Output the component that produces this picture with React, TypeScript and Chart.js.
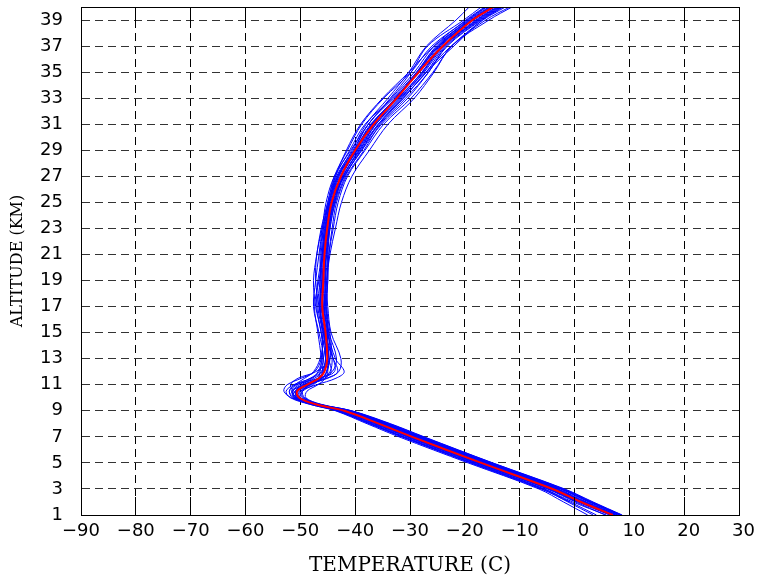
import React, { useEffect, useRef } from "react";
import { Chart, registerables } from "chart.js";

Chart.register(...registerables);

// Altitude levels (km) at which every profile is sampled
const ALTITUDES = [1, 2, 3, 5, 7, 8, 9, 9.5, 10, 10.5, 11, 11.5, 12, 13, 15, 17, 19, 21, 23, 25, 27, 29, 31, 33, 35, 37, 39, 40];

// Mean profile (red)
const MEAN_TEMP = [7.0, 1.2, -4.0, -17.0, -29.6, -35.6, -42.0, -47.2, -50.2, -50.6, -48.8, -46.6, -45.6, -45.1, -45.4, -46.0, -45.8, -45.6, -45.1, -44.3, -42.6, -40.0, -36.6, -32.4, -28.4, -24.0, -18.6, -14.8];

// Individual soundings (blue)
const PROFILE_01 = [8.4, 2.9, -2.3, -15.5, -28.0, -34.1, -40.9, -47.5, -50.8, -51.5, -49.0, -45.0, -43.2, -44.0, -45.8, -46.5, -46.0, -45.2, -44.6, -43.6, -41.8, -39.0, -35.6, -31.2, -27.1, -22.5, -16.7, -12.6];
const PROFILE_02 = [5.8, -0.3, -5.5, -18.3, -31.0, -36.9, -43.0, -47.8, -50.0, -49.6, -47.6, -46.4, -46.0, -45.8, -45.0, -45.2, -45.0, -45.0, -44.8, -44.1, -42.4, -39.8, -37.0, -32.7, -28.8, -25.0, -19.2, -15.6];
const PROFILE_03 = [null, -0.9, -6.1, -19.0, -31.5, -37.4, -43.4, -48.3, -51.8, -52.6, -51.2, -48.0, -46.2, -45.4, -46.2, -47.0, -46.8, -46.0, -45.4, -44.7, -43.4, -40.4, -37.6, -33.4, -29.2, -25.6, -19.8, -16.4];
const PROFILE_04 = [8.7, 3.4, -1.8, -14.9, -27.4, -33.5, -40.6, -46.5, -49.6, -50.0, -47.0, -43.5, -42.0, -43.6, -45.0, -45.6, -45.2, -44.8, -44.0, -43.1, -41.4, -38.2, -34.8, -29.8, -25.8, -22.4, -16.2, -11.8];
const PROFILE_05 = [4.0, -0.8, -5.6, -18.6, -31.2, -37.1, -43.1, -47.2, -50.6, -51.4, -50.2, -47.8, -46.8, -46.0, -46.2, -47.2, -47.6, -47.0, -46.2, -45.0, -43.8, -41.4, -38.8, -34.8, -29.8, -26.0, -19.6, -16.2];
const PROFILE_06 = [7.8, 2.0, -3.2, -16.1, -28.8, -34.8, -41.4, -46.6, -49.4, -49.8, -48.0, -46.0, -45.2, -44.6, -44.8, -45.4, -45.5, -45.3, -44.8, -43.9, -42.2, -39.2, -36.2, -31.8, -27.4, -23.8, -17.8, -14.0];
const PROFILE_07 = [6.4, 0.6, -4.6, -17.7, -30.2, -36.2, -42.4, -47.6, -51.0, -52.0, -50.8, -46.6, -43.8, -44.0, -45.6, -46.4, -46.2, -46.0, -45.6, -44.8, -43.2, -39.8, -37.0, -32.6, -28.6, -24.8, -18.8, -15.0];
const PROFILE_08 = [null, null, -2.8, -15.8, -28.4, -34.5, -41.2, -46.8, -50.4, -50.8, -48.6, -45.6, -44.4, -44.8, -45.2, -46.0, -45.8, -45.4, -45.0, -44.1, -42.0, -38.8, -35.2, -30.4, -26.6, -23.2, -17.0, -13.2];
const PROFILE_09 = [6.9, 1.0, -4.3, -17.2, -29.9, -35.8, -42.1, -47.0, -50.0, -50.2, -48.2, -46.8, -46.4, -46.2, -46.8, -47.4, -46.6, -45.8, -45.2, -44.4, -43.0, -40.2, -37.6, -33.0, -28.2, -24.6, -18.6, -14.8];
const PROFILE_10 = [8.2, 2.6, -2.6, -15.6, -28.2, -34.3, -41.0, -47.4, -51.2, -51.0, -48.4, -45.2, -43.0, -42.6, -44.4, -45.0, -45.4, -45.6, -45.3, -44.2, -42.2, -39.4, -36.2, -31.6, -27.6, -24.0, -18.0, -14.2];
const PROFILE_11 = [5.6, 0.2, -5.0, -18.0, -30.6, -36.6, -42.7, -48.0, -51.4, -52.0, -51.0, -49.2, -47.6, -46.4, -45.6, -45.8, -46.2, -46.4, -45.8, -44.8, -43.6, -41.6, -39.0, -35.0, -30.2, -25.6, -19.0, -15.4];
const PROFILE_12 = [8.6, 3.0, -2.2, -15.2, -27.8, -33.9, -40.8, -46.2, -49.2, -49.6, -48.4, -46.8, -45.8, -45.0, -45.2, -46.2, -46.4, -46.0, -45.6, -44.4, -42.8, -39.6, -36.4, -32.0, -27.8, -24.4, -18.4, -14.6];
const PROFILE_13 = [2.4, -2.0, -6.5, -19.4, -32.0, -37.8, -43.6, -48.2, -50.8, -50.4, -48.6, -46.2, -45.2, -44.8, -45.4, -46.0, -45.8, -45.8, -45.4, -44.6, -43.0, -40.0, -37.2, -32.2, -27.8, -24.0, -17.4, -13.6];
const PROFILE_14 = [8.5, 3.2, -2.0, -15.0, -27.6, -33.7, -40.7, -46.6, -50.0, -50.8, -49.8, -47.4, -46.0, -45.4, -45.8, -46.6, -47.2, -47.0, -46.0, -44.8, -43.2, -40.2, -37.0, -32.6, -28.6, -24.8, -18.8, -15.2];
const PROFILE_15 = [7.2, 1.4, -3.8, -16.8, -29.4, -35.4, -41.8, -46.8, -50.0, -51.2, -51.8, -50.4, -47.2, -44.6, -45.0, -45.6, -45.4, -45.0, -44.6, -43.7, -42.2, -39.2, -35.8, -31.4, -27.0, -23.6, -17.6, -13.8];
const PROFILE_16 = [7.5, 1.8, -3.4, -16.4, -29.0, -35.0, -41.5, -47.1, -50.5, -50.9, -49.4, -46.2, -44.6, -44.2, -44.6, -45.2, -45.0, -44.8, -44.2, -43.4, -41.6, -38.4, -35.4, -30.8, -26.6, -23.4, -17.2, -13.4];
const PROFILE_17 = [null, 0.4, -4.8, -17.8, -30.4, -36.4, -42.6, -47.6, -51.6, -53.0, -52.4, -49.8, -47.4, -46.2, -46.0, -46.8, -46.4, -46.2, -45.8, -45.0, -43.6, -41.0, -38.2, -33.2, -28.8, -25.2, -19.4, -16.0];
const PROFILE_18 = [7.9, 2.2, -3.0, -16.0, -28.6, -34.6, -41.3, -46.4, -49.0, -48.8, -46.8, -45.4, -45.0, -45.0, -45.8, -46.4, -46.0, -45.6, -44.8, -43.8, -42.0, -38.8, -35.8, -31.2, -27.0, -22.0, -16.8, -13.0];
const PROFILE_19 = [3.4, -1.2, -5.9, -18.8, -31.4, -37.3, -43.2, -47.8, -51.0, -51.4, -49.6, -46.4, -44.2, -43.4, -44.8, -45.8, -45.6, -45.2, -44.8, -44.0, -42.6, -39.6, -36.8, -32.6, -28.4, -24.8, -18.4, -14.6];
const PROFILE_20 = [8.3, 2.7, -2.5, -15.5, -28.1, -34.2, -41.0, -47.0, -50.6, -51.6, -50.6, -48.2, -46.6, -45.8, -46.6, -47.6, -47.2, -46.6, -46.0, -45.3, -43.8, -40.8, -37.6, -33.6, -29.8, -26.8, -20.2, -17.0];
const PROFILE_21 = [6.6, 0.8, -4.4, -17.4, -30.0, -36.0, -42.3, -47.2, -50.4, -50.8, -49.0, -46.8, -45.8, -45.4, -45.6, -46.2, -46.0, -45.8, -45.4, -44.6, -43.2, -40.6, -38.0, -34.0, -30.2, -27.0, -21.6, -19.2];
const PROFILE_22 = [7.4, 1.6, -3.6, -16.6, -29.2, -35.2, -41.7, -47.0, -50.2, -50.6, -48.4, -46.0, -45.2, -45.0, -45.0, -45.4, -45.2, -44.6, -43.6, -42.5, -40.6, -37.4, -34.0, -29.2, -25.6, -22.4, -15.6, -11.4];

const PROFILES = [
  PROFILE_01, PROFILE_02, PROFILE_03, PROFILE_04, PROFILE_05, PROFILE_06, PROFILE_07, PROFILE_08,
  PROFILE_09, PROFILE_10, PROFILE_11, PROFILE_12, PROFILE_13, PROFILE_14, PROFILE_15, PROFILE_16,
  PROFILE_17, PROFILE_18, PROFILE_19, PROFILE_20, PROFILE_21, PROFILE_22,
];

const X_MIN = -90;
const X_MAX = 30;
const X_STEP = 10;
const Y_MIN = 1;
const Y_MAX = 40;
const Y_TICKS = [1, 3, 5, 7, 9, 11, 13, 15, 17, 19, 21, 23, 25, 27, 29, 31, 33, 35, 37, 39];

const X_TITLE = "TEMPERATURE (C)";
const Y_TITLE = "ALTITUDE (KM)";

const toPoints = (temps: (number | null)[]) =>
  temps
    .map((t, i) => (t === null ? null : { x: t, y: ALTITUDES[i] }))
    .filter((p) => p !== null) as { x: number; y: number }[];

const align = (v: number) => Math.round(v - 0.5) + 0.5;

const formatX = (v: number) => {
  if (v < 0) return "\u2212" + Math.abs(v);
  if (v === 0) return "\u2003" + "0";
  return "\u2002" + String(v);
};

const framePlugin = {
  id: "frame",
  afterDatasetsDraw(chart: any) {
    const { ctx, chartArea } = chart;
    const { left, right, top, bottom } = chartArea;
    ctx.save();
    ctx.strokeStyle = "#000";
    ctx.lineWidth = 1;
    ctx.setLineDash([]);
    const xs = chart.scales.x;
    ctx.beginPath();
    for (const t of xs.ticks) {
      const px = align(xs.getPixelForValue(t.value));
      ctx.moveTo(px, bottom);
      ctx.lineTo(px, bottom - 18);
      ctx.moveTo(px, top);
      ctx.lineTo(px, top + 14);
    }
    ctx.stroke();
    ctx.strokeRect(align(left), align(top), align(right) - align(left), align(bottom) - align(top));
    ctx.restore();
  },
};

export default function App() {
  const ref = useRef<HTMLCanvasElement | null>(null);

  useEffect(() => {
    if (!ref.current) return;
    const datasets: any[] = [
      {
        data: toPoints(MEAN_TEMP),
        borderColor: "#ff0000",
        borderWidth: 2,
        pointRadius: 0,
        tension: 0.35,
        fill: false,
      },
      ...PROFILES.map((p) => ({
        data: toPoints(p),
        borderColor: "#0000ff",
        borderWidth: 1,
        pointRadius: 0,
        tension: 0.35,
        fill: false,
      })),
    ];

    const chart = new Chart(ref.current, {
      type: "line",
      data: { datasets },
      plugins: [framePlugin],
      options: {
        animation: false,
        responsive: false,
        devicePixelRatio: 1,
        parsing: false as any,
        layout: { padding: { left: 0, top: 7, right: 21, bottom: 0 } },
        plugins: { legend: { display: false }, tooltip: { enabled: false } },
        scales: {
          x: {
            type: "linear",
            min: X_MIN,
            max: X_MAX,
            afterFit: (s: any) => {
              s.height = 66;
              s.paddingLeft = 0;
              s.paddingRight = 0;
            },
            ticks: {
              stepSize: X_STEP,
              color: "#000",
              padding: 6,
              maxRotation: 0,
              autoSkip: false,
              font: { family: "DejaVu Sans", size: 18 },
              callback: (v: any) => formatX(Number(v)),
            },
            grid: { color: "#000", lineWidth: 1, drawTicks: false },
            border: { display: true, color: "#000", dash: [8, 5] },
            title: {
              display: true,
              text: X_TITLE,
              color: "#000",
              font: { family: "DejaVu Serif", size: 20 },
              padding: { top: 0, bottom: 3 },
            },
          },
          y: {
            type: "linear",
            min: Y_MIN,
            max: Y_MAX,
            afterFit: (s: any) => {
              s.width = 81;
              s.paddingTop = 0;
              s.paddingBottom = 0;
            },
            afterBuildTicks: (s: any) => {
              s.ticks = Y_TICKS.map((v) => ({ value: v }));
            },
            ticks: {
              color: "#000",
              padding: 18,
              font: { family: "DejaVu Sans", size: 18 },
              autoSkip: false,
            },
            grid: { color: "#333", lineWidth: 1, drawTicks: false },
            border: { display: true, color: "#000", dash: [8, 5] },
            title: {
              display: true,
              text: Y_TITLE,
              color: "#000",
              font: { family: "DejaVu Serif", size: 16 },
              padding: { top: 8, bottom: 0 },
            },
          },
        },
      },
    });
    return () => chart.destroy();
  }, []);

  return (
    <div style={{ position: "fixed", left: 0, top: 0, width: 760, height: 581, background: "#fff" }}>
      <canvas ref={ref} width={760} height={581} style={{ width: 760, height: 581, display: "block" }} />
    </div>
  );
}
